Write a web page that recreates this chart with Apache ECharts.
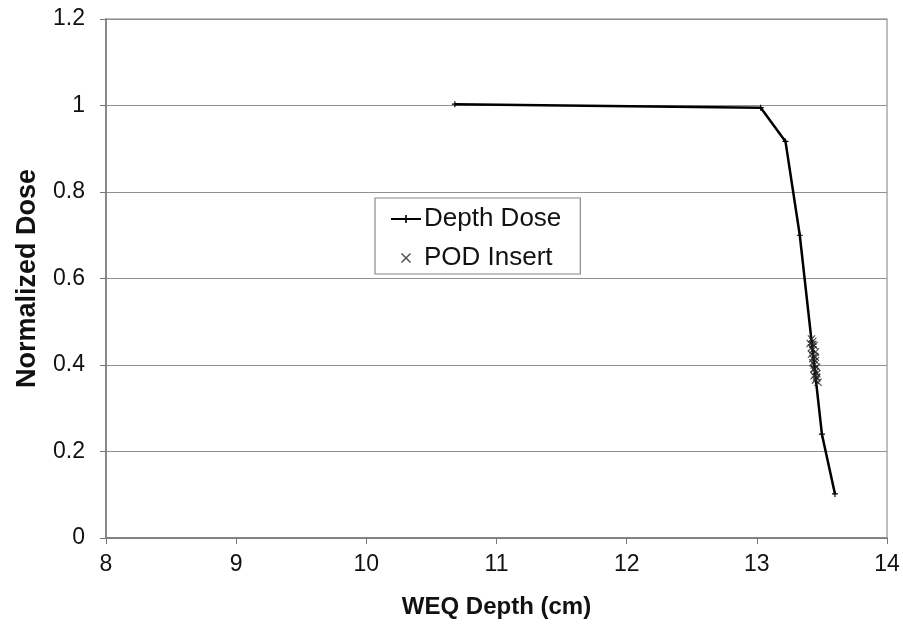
<!DOCTYPE html>
<html><head><meta charset="utf-8">
<script src="https://cdn.jsdelivr.net/npm/echarts@6/dist/echarts.min.js"></script>
<style>html,body{margin:0;padding:0;background:#fff}#c{width:903px;height:627px}</style>
</head><body><div id="c"></div>
<script>
const xTicks = [8, 9, 10, 11, 12, 13, 14];
const yTicks = [0, 0.2, 0.4, 0.6, 0.8, 1, 1.2];
const depthDoseX = [10.68, 13.03, 13.22, 13.33, 13.50, 13.60];
const depthDoseY = [1.003, 0.995, 0.917, 0.700, 0.240, 0.102];
const podX = [13.42, 13.43, 13.41, 13.44, 13.42, 13.43, 13.45, 13.42, 13.44, 13.43, 13.45, 13.43, 13.44, 13.46, 13.44, 13.45, 13.46, 13.44, 13.46, 13.45, 13.47, 13.43, 13.45, 13.44, 13.46];
const podY = [0.460, 0.455, 0.450, 0.445, 0.440, 0.435, 0.430, 0.425, 0.420, 0.415, 0.410, 0.405, 0.400, 0.395, 0.390, 0.385, 0.380, 0.375, 0.370, 0.365, 0.360, 0.448, 0.418, 0.392, 0.372];

const plusSym = 'path://M4,0h2v10h-2z M0,4h10v2h-10z';
const xSym = 'path://M0,1 L1,0 L5,4 L9,0 L10,1 L6,5 L10,9 L9,10 L5,6 L1,10 L0,9 L4,5 Z';
const font = 'Liberation Sans, Arial, sans-serif';

const chart = echarts.init(document.getElementById('c'));
chart.setOption({
  animation: false,
  backgroundColor: '#fff',
  grid: { left: 106, right: 16, top: 19, bottom: 89, show: true, borderColor: '#aaa', borderWidth: 1.5 },
  legend: {
    orient: 'vertical', left: 375, top: 198,
    padding: [8, 19, 3, 15], itemGap: 13,
    backgroundColor: '#fff', borderColor: '#888', borderWidth: 1.2,
    itemWidth: 30, itemHeight: 10,
    textStyle: { fontFamily: font, fontSize: 26, color: '#111', padding: [0, 0, 0, -2] },
    data: [
      { name: 'Depth Dose' },
      { name: 'POD Insert' }
    ]
  },
  xAxis: {
    type: 'value', min: xTicks[0], max: xTicks[xTicks.length - 1], interval: 1,
    name: 'WEQ Depth (cm)', nameLocation: 'middle', nameGap: 57,
    nameTextStyle: { fontFamily: font, fontSize: 24, fontWeight: 'bold', color: '#111' },
    axisLine: { show: true, lineStyle: { color: '#777', width: 1.5 } },
    axisTick: { show: true, length: 6, lineStyle: { color: '#777' } },
    axisLabel: { fontFamily: font, fontSize: 23, color: '#111', margin: 15 },
    splitLine: { show: false }
  },
  yAxis: {
    type: 'value', min: yTicks[0], max: yTicks[yTicks.length - 1], interval: 0.2,
    name: 'Normalized Dose', nameLocation: 'middle', nameGap: 65,
    nameTextStyle: { fontFamily: font, fontSize: 27, fontWeight: 'bold', color: '#111' },
    axisLine: { show: true, lineStyle: { color: '#777', width: 1.5 } },
    axisTick: { show: true, length: 6, lineStyle: { color: '#777' } },
    axisLabel: { fontFamily: font, fontSize: 23, color: '#111', margin: 21,
      formatter: v => String(Math.round(v * 10) / 10) },
    splitLine: { show: true, lineStyle: { color: '#909090', width: 1.2 } }
  },
  series: [
    {
      name: 'Depth Dose', type: 'line',
      data: depthDoseX.map((x, i) => [x, depthDoseY[i]]),
      symbol: plusSym, symbolSize: 6, showSymbol: true,
      lineStyle: { color: '#000', width: 2.5 },
      itemStyle: { color: '#000' },
      z: 3
    },
    {
      name: 'POD Insert', type: 'scatter',
      data: podX.map((x, i) => [x, podY[i]]),
      symbol: xSym, symbolSize: 8,
      itemStyle: { color: '#222' },
      z: 4
    }
  ]
});
</script></body></html>
